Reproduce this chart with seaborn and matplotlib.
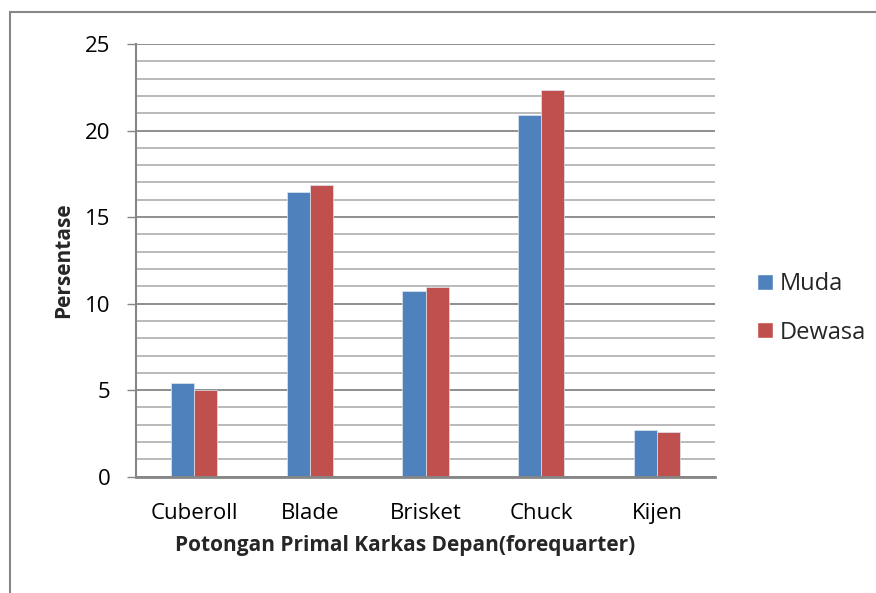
import matplotlib
matplotlib.use("Agg")
import matplotlib.pyplot as plt
import seaborn as sns
import pandas as pd
from matplotlib.patches import Rectangle, Patch

categories = ["Cuberoll", "Blade", "Brisket", "Chuck", "Kijen"]
series_names = ["Muda", "Dewasa"]
muda = [5.43, 16.44, 10.72, 20.87, 2.68]
dewasa = [5.01, 16.86, 10.98, 22.35, 2.57]
colors = ["#4f81bd", "#c0504d"]

df = pd.DataFrame({
    "cat": categories * 2,
    "series": [series_names[0]] * 5 + [series_names[1]] * 5,
    "value": muda + dewasa,
})

sns.set_theme(style="white")
plt.rcParams["font.family"] = ["Open Sans", "DejaVu Sans"]

W, H = 876, 593
fig = plt.figure(figsize=(W / 100, H / 100), dpi=100)
ax_l, ax_r, ax_t, ax_b = 136, 715, 44, 476.7
ax = fig.add_axes([ax_l / W, 1 - ax_b / H, (ax_r - ax_l) / W, (ax_b - ax_t) / H])

# gridlines
for v in range(0, 26):
    if v % 5 == 0:
        ax.axhline(v, color="#868686", lw=1.3, zorder=0)
    else:
        ax.axhline(v, color="#b4b4b4", lw=1.3, zorder=0)

sns.barplot(data=df, x="cat", y="value", hue="series", palette=colors,
            width=0.4, ax=ax, legend=False, saturation=1, zorder=2,
            edgecolor="#dde6f0", linewidth=0.5)

ax.set_ylim(0, 25)
ax.set_xlim(-0.5, 4.5)
ax.set_yticks([0, 5, 10, 15, 20, 25])
ax.tick_params(axis="y", which="major", length=6.5, width=1, color="#868686",
               left=True, labelsize=16, pad=12, labelcolor="black")
ax.tick_params(axis="x", length=0, labelsize=16, pad=19, labelcolor="black")
for s in ["top", "right"]:
    ax.spines[s].set_visible(False)
ax.spines["left"].set_color("#868686")
ax.spines["left"].set_linewidth(1.5)
ax.spines["bottom"].set_color("#868686")
ax.spines["bottom"].set_linewidth(2)

ax.set_xlabel("Potongan Primal Karkas Depan(forequarter)", fontsize=15,
              fontweight="bold")
ax.set_ylabel("Persentase", fontsize=15, fontweight="bold")
ax.xaxis.set_label_coords((405 - ax_l) / (ax_r - ax_l), -0.134)
ax.yaxis.set_label_coords(-0.107, 0.5)

handles = [Patch(facecolor=c, label=n) for c, n in zip(colors, series_names)]
leg = fig.legend(handles=handles, loc="center left",
                 bbox_to_anchor=(757 / W, 1 - 308.5 / H), frameon=False,
                 fontsize=17, handlelength=0.66, handleheight=0.66,
                 handletextpad=0.3, labelspacing=1.02, borderpad=0,
                 borderaxespad=0)

fig.patches.append(Rectangle((10 / W, -0.1), 1.2, 1 - 12 / H + 0.1,
                             transform=fig.transFigure, fill=False,
                             edgecolor="#868686", lw=1.5))

fig.savefig("out.png", dpi=100)
